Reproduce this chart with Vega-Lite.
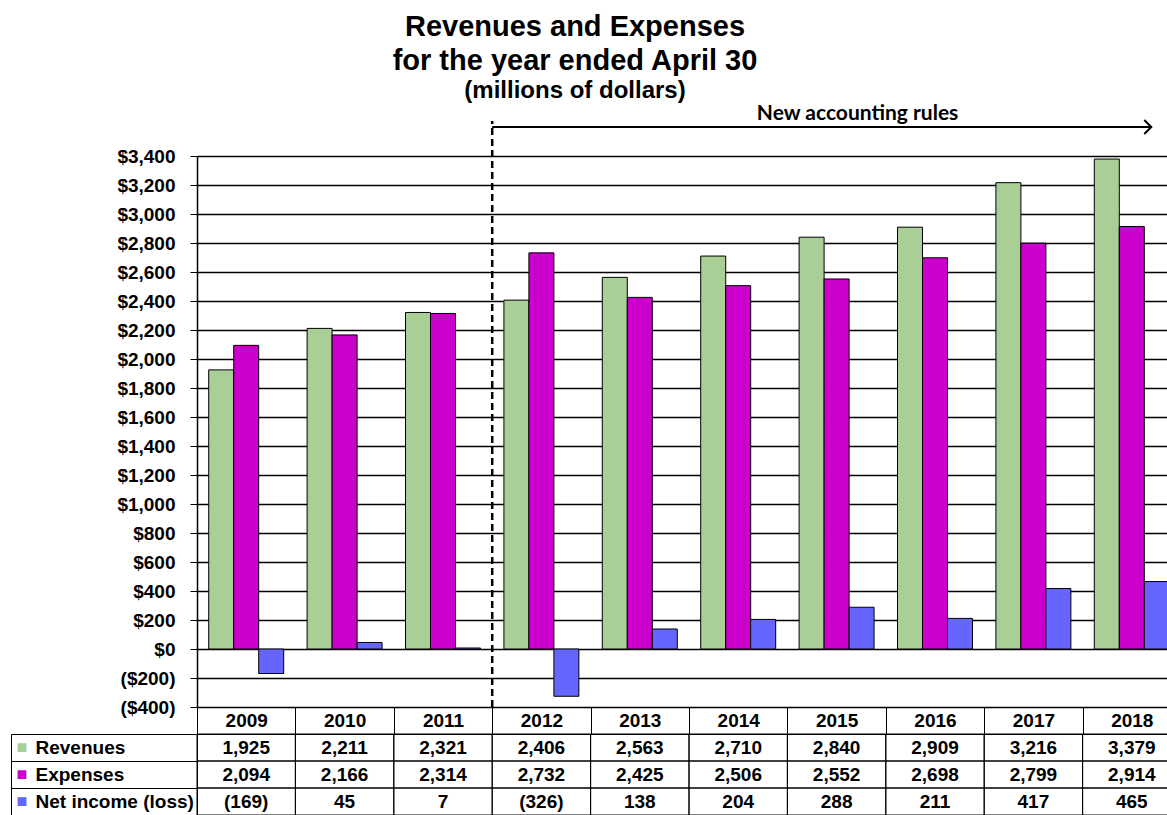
{
  "$schema": "https://vega.github.io/schema/vega-lite/v6.json",
  "padding": {"left": 10, "top": 12, "right": 0, "bottom": 0},
  "config": {
    "font": "Liberation Sans",
    "view": {"stroke": null}
  },
  "title": {
    "text": ["Revenues and Expenses", "for the year ended April 30"],
    "subtitle": "(millions of dollars)",
    "anchor": "middle",
    "dx": -21,
    "offset": 0,
    "font": "Liberation Sans",
    "fontSize": 29,
    "fontWeight": "bold",
    "lineHeight": 34,
    "color": "black",
    "subtitleFont": "Liberation Sans",
    "subtitleFontSize": 24,
    "subtitleFontWeight": "bold",
    "subtitleColor": "black",
    "subtitlePadding": 3
  },
  "data": {
    "values": [
      {"year": "2009", "series": "Revenues", "value": 1925},
      {"year": "2009", "series": "Expenses", "value": 2094},
      {"year": "2009", "series": "Net income (loss)", "value": -169},
      {"year": "2010", "series": "Revenues", "value": 2211},
      {"year": "2010", "series": "Expenses", "value": 2166},
      {"year": "2010", "series": "Net income (loss)", "value": 45},
      {"year": "2011", "series": "Revenues", "value": 2321},
      {"year": "2011", "series": "Expenses", "value": 2314},
      {"year": "2011", "series": "Net income (loss)", "value": 7},
      {"year": "2012", "series": "Revenues", "value": 2406},
      {"year": "2012", "series": "Expenses", "value": 2732},
      {"year": "2012", "series": "Net income (loss)", "value": -326},
      {"year": "2013", "series": "Revenues", "value": 2563},
      {"year": "2013", "series": "Expenses", "value": 2425},
      {"year": "2013", "series": "Net income (loss)", "value": 138},
      {"year": "2014", "series": "Revenues", "value": 2710},
      {"year": "2014", "series": "Expenses", "value": 2506},
      {"year": "2014", "series": "Net income (loss)", "value": 204},
      {"year": "2015", "series": "Revenues", "value": 2840},
      {"year": "2015", "series": "Expenses", "value": 2552},
      {"year": "2015", "series": "Net income (loss)", "value": 288},
      {"year": "2016", "series": "Revenues", "value": 2909},
      {"year": "2016", "series": "Expenses", "value": 2698},
      {"year": "2016", "series": "Net income (loss)", "value": 211},
      {"year": "2017", "series": "Revenues", "value": 3216},
      {"year": "2017", "series": "Expenses", "value": 2799},
      {"year": "2017", "series": "Net income (loss)", "value": 417},
      {"year": "2018", "series": "Revenues", "value": 3379},
      {"year": "2018", "series": "Expenses", "value": 2914},
      {"year": "2018", "series": "Net income (loss)", "value": 465}
    ]
  },
  "spacing": 27,
  "bounds": "flush",
  "resolve": {"scale": {"x": "independent", "y": "independent"}},
  "vconcat": [
    {
      "width": 984,
      "height": 551,
      "layer": [
        {
          "mark": {"type": "bar", "stroke": "black", "strokeWidth": 1},
          "encoding": {
            "x": {"field": "year", "type": "nominal", "scale": {"paddingInner": 0.238, "paddingOuter": 0.119}, "axis": null},
            "xOffset": {"field": "series", "type": "nominal", "sort": ["Revenues", "Expenses", "Net income (loss)"], "scale": {"paddingInner": 0, "paddingOuter": 0}},
            "y": {
              "field": "value", "type": "quantitative",
              "scale": {"domain": [-400, 3400], "nice": false, "zero": false},
              "axis": {
                "title": null,
                "values": [-400, -200, 0, 200, 400, 600, 800, 1000, 1200, 1400, 1600, 1800, 2000, 2200, 2400, 2600, 2800, 3000, 3200, 3400],
                "tickCount": 20,
                "labelOverlap": false,
                "format": "($,.0f",
                "labelFontSize": 19, "labelFontWeight": "bold", "labelColor": "black", "labelPadding": 15,
                "tickSize": 7, "tickColor": "black", "domainColor": "black", "domainWidth": 1.5,
                "grid": true, "gridColor": "black", "gridOpacity": 1, "gridWidth": 1.3
              }
            },
            "color": {
              "field": "series", "type": "nominal",
              "scale": {"domain": ["Revenues", "Expenses", "Net income (loss)"], "range": ["#A9CF96", "#CC00CC", "#6666FF"]},
              "legend": null
            }
          }
        },
        {
          "data": {"values": [{"note": "New accounting rules"}]},
          "layer": [
            {
              "mark": {"type": "rule", "strokeDash": [7, 4], "strokeWidth": 2.5, "color": "black"},
              "encoding": {
                "x": {"datum": "2012", "type": "nominal", "bandPosition": -0.156},
                "y": {"datum": -400, "type": "quantitative"},
                "y2": {"datum": 3641}
              }
            },
            {
              "mark": {"type": "rule", "strokeWidth": 2, "color": "black"},
              "encoding": {
                "x": {"datum": "2012", "type": "nominal", "bandPosition": -0.156},
                "x2": {"datum": "2018", "bandPosition": 0.76},
                "y": {"datum": 3600, "type": "quantitative"}
              }
            },
            {
              "mark": {"type": "point", "shape": "M-1,-1L0,0L-1,1", "filled": false, "stroke": "black", "strokeWidth": 2, "size": 196, "opacity": 1},
              "encoding": {
                "x": {"datum": "2018", "type": "nominal", "bandPosition": 0.76},
                "y": {"datum": 3600, "type": "quantitative"}
              }
            },
            {
              "mark": {"type": "text", "font": "Lato", "fontWeight": "bold", "fontSize": 21, "color": "black", "align": "center", "baseline": "middle"},
              "encoding": {
                "x": {"datum": "2015", "type": "nominal", "bandPosition": 0.78},
                "y": {"datum": 3690, "type": "quantitative"},
                "text": {"field": "note", "type": "nominal"}
              }
            }
          ]
        }
      ]
    },
    {
      "width": 984,
      "height": 81,
      "layer": [
        {
          "layer": [
            {
              "mark": {"type": "rect", "fill": "white", "fillOpacity": 0, "stroke": "black", "strokeWidth": 1},
              "encoding": {
                "x": {
                  "field": "year", "type": "nominal",
                  "scale": {"paddingInner": 0, "paddingOuter": 0},
                  "axis": {
                    "orient": "top", "title": null, "tickBand": "extent", "tickSize": 27, "tickColor": "black",
                    "domainColor": "black", "labelFontSize": 19, "labelFontWeight": "bold", "labelColor": "black",
                    "labelAngle": 0, "labelBaseline": "middle", "labelPadding": -13.5, "grid": false
                  }
                },
                "y": {
                  "field": "series", "type": "nominal", "sort": ["Revenues", "Expenses", "Net income (loss)"],
                  "scale": {"paddingInner": 0, "paddingOuter": 0},
                  "axis": {
                    "orient": "left", "title": null, "tickBand": "extent", "tickSize": 186, "tickColor": "black",
                    "domainColor": "black", "labelAlign": "left", "labelBaseline": "middle", "labelPadding": -24,
                    "labelFontSize": 19, "labelFontWeight": "bold", "labelColor": "black", "labelLimit": 300,
                    "grid": false
                  }
                }
              }
            },
            {
              "mark": {"type": "text", "fontSize": 19, "fontWeight": "bold", "color": "black", "align": "center", "baseline": "middle"},
              "encoding": {
                "x": {"field": "year", "type": "nominal"},
                "y": {"field": "series", "type": "nominal", "sort": ["Revenues", "Expenses", "Net income (loss)"]},
                "text": {"field": "value", "type": "quantitative", "format": "(,.0f"}
              }
            }
          ]
        },
        {
          "mark": {"type": "text", "opacity": 0},
          "encoding": {
            "y": {
              "field": "series", "type": "nominal", "sort": ["Revenues", "Expenses", "Net income (loss)"],
              "scale": {"paddingInner": 0, "paddingOuter": 0},
              "axis": {
                "orient": "left", "offset": 186, "title": null, "ticks": false, "grid": false,
                "domainColor": "black", "labelExpr": "'■'", "labelAlign": "center", "labelBaseline": "middle",
                "labelPadding": -10.5, "labelFontSize": 18,
                "labelColor": {"expr": "datum.value == 'Revenues' ? '#A9CF96' : datum.value == 'Expenses' ? '#CC00CC' : '#6666FF'"}
              }
            },
            "text": {"field": "value", "type": "quantitative"}
          }
        }
      ],
      "resolve": {"scale": {"y": "independent"}}
    }
  ]
}
